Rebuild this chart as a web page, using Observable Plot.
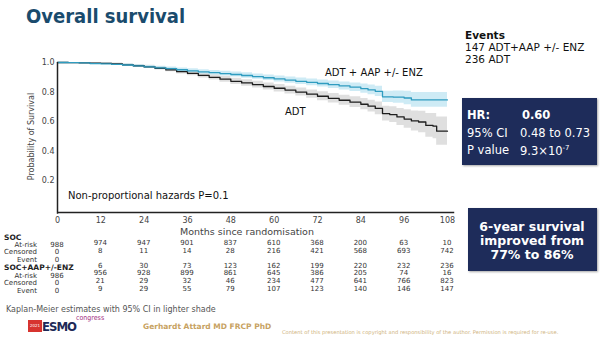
<!DOCTYPE html>
<html>
<head>
<meta charset="utf-8">
<script src="https://cdn.jsdelivr.net/npm/d3@7"></script>
<script src="https://cdn.jsdelivr.net/npm/@observablehq/plot@0.6"></script>
<style>
  html, body { margin: 0; padding: 0; background: #fff; }
  #wrap { position: relative; width: 600px; height: 338px; overflow: hidden; font-family: "DejaVu Sans", Verdana, sans-serif; color: #111; }
  #wrap svg { position: absolute; left: 0; top: 0; }
  .t { position: absolute; white-space: nowrap; line-height: 1; }
  .box { position: absolute; background: #1e2c5a; color: #fff; box-shadow: 1px 1px 2px rgba(0,0,0,0.35); }
</style>
</head>
<body>
<div id="wrap"></div>
<script>
// ---- Kaplan-Meier curves ----
const socMonths = [0, 3, 6, 9, 12, 15, 18, 21, 24, 27, 30, 33, 36, 39, 42, 45, 48, 51, 54, 57, 60, 63, 66, 69, 72, 75, 78, 81, 84, 86, 88, 90, 92, 94, 96, 98, 100, 102, 104, 105, 108];
const socSurv   = [1.000, 0.999, 0.997, 0.995, 0.994, 0.990, 0.984, 0.978, 0.970, 0.961, 0.950, 0.938, 0.926, 0.913, 0.900, 0.887, 0.873, 0.862, 0.850, 0.838, 0.826, 0.814, 0.800, 0.786, 0.772, 0.758, 0.745, 0.732, 0.718, 0.705, 0.690, 0.655, 0.648, 0.632, 0.618, 0.605, 0.598, 0.575, 0.570, 0.536, 0.536];
const socHalfCI = [0.000, 0.002, 0.003, 0.004, 0.005, 0.006, 0.008, 0.009, 0.011, 0.012, 0.013, 0.015, 0.016, 0.017, 0.018, 0.020, 0.021, 0.022, 0.023, 0.024, 0.025, 0.026, 0.027, 0.028, 0.030, 0.032, 0.034, 0.036, 0.038, 0.040, 0.043, 0.050, 0.053, 0.057, 0.062, 0.068, 0.073, 0.080, 0.086, 0.095, 0.100];

const aapMonths = [0, 3, 6, 9, 12, 15, 18, 21, 24, 27, 30, 33, 36, 39, 42, 45, 48, 51, 54, 57, 60, 63, 66, 69, 72, 75, 78, 81, 84, 86, 88, 90, 93, 96, 98, 108];
const aapSurv   = [1.000, 0.999, 0.997, 0.993, 0.991, 0.988, 0.983, 0.977, 0.971, 0.964, 0.958, 0.951, 0.944, 0.937, 0.931, 0.925, 0.919, 0.912, 0.905, 0.897, 0.889, 0.881, 0.873, 0.866, 0.858, 0.850, 0.842, 0.833, 0.823, 0.815, 0.805, 0.768, 0.766, 0.760, 0.747, 0.747];
const aapHalfCI = [0.000, 0.002, 0.003, 0.004, 0.005, 0.006, 0.007, 0.008, 0.009, 0.010, 0.011, 0.012, 0.013, 0.014, 0.015, 0.016, 0.017, 0.018, 0.018, 0.019, 0.020, 0.021, 0.022, 0.023, 0.024, 0.025, 0.027, 0.029, 0.031, 0.033, 0.035, 0.038, 0.041, 0.045, 0.050, 0.055];

// ---- Axis ticks ----
const xTicks = [0, 12, 24, 36, 48, 60, 72, 84, 96, 108];
const yTicks = [0.2, 0.4, 0.6, 0.8, 1.0];

// ---- Numbers at risk table ----
const socAtRisk    = [988, 974, 947, 901, 837, 610, 368, 200, 63, 10];
const socCensored  = [0, 8, 11, 14, 28, 216, 421, 568, 693, 742];
const socEvents    = [0, 6, 30, 73, 123, 162, 199, 220, 232, 236];
const aapAtRisk    = [986, 956, 928, 899, 861, 645, 386, 205, 74, 16];
const aapCensored  = [0, 21, 29, 32, 46, 234, 477, 641, 766, 823];
const aapEvents    = [0, 9, 29, 55, 79, 107, 123, 140, 146, 147];

const soc = socMonths.map((t, i) => ({t, s: socSurv[i], lo: socSurv[i] - socHalfCI[i], hi: Math.min(1, socSurv[i] + socHalfCI[i])}));
const aap = aapMonths.map((t, i) => ({t, s: aapSurv[i], lo: aapSurv[i] - aapHalfCI[i], hi: Math.min(1, aapSurv[i] + aapHalfCI[i])}));

const plot = Plot.plot({
  width: 600,
  height: 338,
  marginLeft: 57,
  marginRight: 153,
  marginTop: 62,
  marginBottom: 128,
  style: {fontFamily: "DejaVu Sans, Verdana, sans-serif", fontSize: "8px", color: "#444", background: "transparent", overflow: "visible"},
  x: {domain: [0, 108], ticks: xTicks, tickSize: 0, tickPadding: 7, label: null},
  y: {domain: [0, 1], ticks: yTicks, tickFormat: d3.format(".1f"), tickSize: 0, tickPadding: 3, label: "Probability of Survival", labelAnchor: "center", labelArrow: "none", labelOffset: 29},
  marks: [
    Plot.areaY(soc, {x: "t", y1: "lo", y2: "hi", curve: "step-after", fill: "#d4d4d4", fillOpacity: 0.75}),
    Plot.areaY(aap, {x: "t", y1: "lo", y2: "hi", curve: "step-after", fill: "#b9e3f1", fillOpacity: 0.7}),
    Plot.line(soc, {x: "t", y: "s", curve: "step-after", stroke: "#1e1e1e", strokeWidth: 1.3}),
    Plot.line(aap, {x: "t", y: "s", curve: "step-after", stroke: "#2f9cc0", strokeWidth: 1.3}),
    Plot.ruleX([0], {y1: -0.025, y2: 1.0, stroke: "#222", strokeWidth: 1.5}),
    Plot.ruleY([0], {x1: 0, x2: 110, dy: 2, stroke: "#222", strokeWidth: 1.5})
  ]
});

const wrap = document.getElementById("wrap");
wrap.appendChild(plot);

function addText(txt, left, cy, opts = {}) {
  const d = document.createElement("div");
  d.className = "t";
  d.textContent = txt;
  const fs = opts.size || 10;
  d.style.fontSize = fs + "px";
  d.style.top = (cy - fs * 0.5) + "px";
  if (opts.anchor === "middle") { d.style.left = left + "px"; d.style.transform = "translateX(-50%)"; }
  else if (opts.anchor === "end") { d.style.right = (600 - left) + "px"; }
  else d.style.left = left + "px";
  if (opts.bold) d.style.fontWeight = "bold";
  if (opts.color) d.style.color = opts.color;
  if (opts.family) d.style.fontFamily = opts.family;
  wrap.appendChild(d);
  return d;
}

// Title
addText("Overall survival", 26, 16, {size: 20, bold: true, color: "#1a4b6d", family: "'DejaVu Sans Condensed', 'DejaVu Sans', sans-serif"}).style.fontStretch = "condensed";

// Events
addText("Events", 465, 35, {size: 10.5, bold: true});
addText("147 ADT+AAP +/- ENZ", 465, 47, {size: 10.5});
addText("236 ADT", 465, 59, {size: 10.5});

// Curve labels and annotation
addText("ADT + AAP +/- ENZ", 325, 73, {size: 10});
addText("ADT", 285, 112, {size: 10});
addText("Non-proportional hazards P=0.1", 68, 196, {size: 10});

// x-axis title
addText("Months since randomisation", 247, 232, {size: 9.5, anchor: "middle", color: "#444"});

// HR box
const hr = document.createElement("div");
hr.className = "box";
Object.assign(hr.style, {left: "462px", top: "98px", width: "135px", height: "67px"});
wrap.appendChild(hr);
addText("HR:", 467, 116, {size: 11.5, bold: true, color: "#fff"});
addText("0.60", 522, 116, {size: 11.5, bold: true, color: "#fff"});
addText("95% CI", 467, 134, {size: 11.5, color: "#fff"});
addText("0.48 to 0.73", 520, 134, {size: 11.5, color: "#fff"});
addText("P value", 467, 151, {size: 11.5, color: "#fff"});
const pv = addText("", 520, 151, {size: 11.5, color: "#fff"});
pv.innerHTML = "9.3×10<sup style='font-size:7px;vertical-align:5px'>-7</sup>";

// 6-year box
const sy = document.createElement("div");
sy.className = "box";
Object.assign(sy.style, {left: "468px", top: "208px", width: "129px", height: "63px"});
wrap.appendChild(sy);
addText("6-year survival", 532, 227, {size: 12.5, bold: true, color: "#fff", anchor: "middle"});
addText("improved from", 532, 241, {size: 12.5, bold: true, color: "#fff", anchor: "middle"});
addText("77% to 86%", 532, 255, {size: 12.5, bold: true, color: "#fff", anchor: "middle"});

// Numbers-at-risk table, columns placed with the plot's x scale
const xs = plot.scale("x");
const tcol = "#333";
addText("SOC", 4, 238, {size: 7.5, bold: true, color: "#222"});
addText("At-risk", 37, 245, {size: 7, anchor: "end", color: tcol});
addText("Censored", 37, 252.5, {size: 7, anchor: "end", color: tcol});
addText("Event", 37, 260, {size: 7, anchor: "end", color: tcol});
addText("SOC+AAP+/-ENZ", 4, 268, {size: 7.5, bold: true, color: "#222"});
addText("At-risk", 37, 276, {size: 7, anchor: "end", color: tcol});
addText("Censored", 37, 283.5, {size: 7, anchor: "end", color: tcol});
addText("Event", 37, 291, {size: 7, anchor: "end", color: tcol});

xTicks.forEach((m, i) => {
  const px = xs.apply(m);
  const first = i === 0;
  addText(String(socAtRisk[i]), px, first ? 245 : 243, {size: 7, anchor: "middle", color: tcol});
  addText(String(socCensored[i]), px, first ? 252.5 : 251, {size: 7, anchor: "middle", color: tcol});
  addText(String(socEvents[i]), px, first ? 260 : 266, {size: 7, anchor: "middle", color: tcol});
  addText(String(aapAtRisk[i]), px, first ? 276 : 273, {size: 7, anchor: "middle", color: tcol});
  addText(String(aapCensored[i]), px, first ? 283.5 : 281, {size: 7, anchor: "middle", color: tcol});
  addText(String(aapEvents[i]), px, first ? 291 : 289, {size: 7, anchor: "middle", color: tcol});
});

// Footer
addText("Kaplan-Meier estimates with 95% CI in lighter shade", 6, 310, {size: 8, color: "#555"});
const logoRed = document.createElement("div");
Object.assign(logoRed.style, {position: "absolute", left: "28px", top: "320px", width: "14px", height: "12px", background: "#d7342f", color: "#fff", fontSize: "4px", lineHeight: "12px", textAlign: "center", fontFamily: "DejaVu Sans"});
logoRed.textContent = "2021";
wrap.appendChild(logoRed);
const esmo = addText("ESMO", 42, 326, {size: 13, bold: true, color: "#1d2a57", family: "'DejaVu Sans Condensed', 'DejaVu Sans', sans-serif"});
esmo.style.letterSpacing = "-1px";
esmo.style.fontStretch = "condensed";
addText("congress", 76, 318, {size: 7, color: "#a3307f", family: "'Liberation Sans Narrow', 'DejaVu Sans Condensed', sans-serif"});
addText("Gerhardt Attard MD FRCP PhD", 143, 327, {size: 7.5, bold: true, color: "#c7a262"});
addText("Content of this presentation is copyright and responsibility of the author. Permission is required for re-use.", 282, 333, {size: 5.2, color: "#cfb37e"});
</script>
</body>
</html>
